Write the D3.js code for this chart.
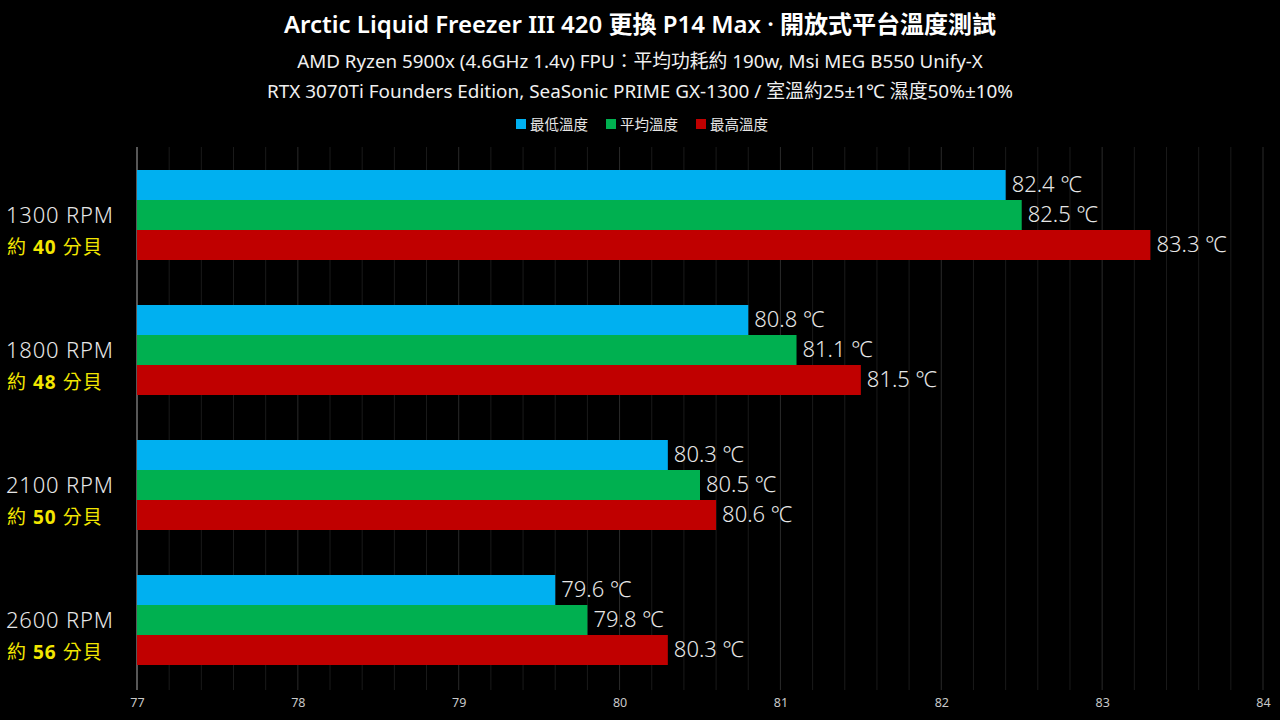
<!DOCTYPE html>
<html><head><meta charset="utf-8">
<script src="https://cdn.jsdelivr.net/npm/d3@7"></script>
<style>html,body{margin:0;padding:0;background:#000;}svg{display:block;}</style>
</head><body>
<script>
const categories = ["1300 RPM", "1800 RPM", "2100 RPM", "2600 RPM"];
const noiseDb = ["40", "48", "50", "56"];
const seriesNames = ["最低溫度", "平均溫度", "最高溫度"];
const minTemp = [82.4, 80.8, 80.3, 79.6];
const avgTemp = [82.5, 81.1, 80.5, 79.8];
const maxTemp = [83.3, 81.5, 80.6, 80.3];
const xTicks = [77, 78, 79, 80, 81, 82, 83, 84];
const colors = ["#00b0f0", "#00b050", "#c00000"];
const titleText = "Arctic Liquid Freezer III 420 更換 P14 Max · 開放式平台溫度測試";
const subtitle1 = "AMD Ryzen 5900x (4.6GHz 1.4v) FPU：平均功耗約 190w, Msi MEG B550 Unify-X";
const subtitle2 = "RTX 3070Ti Founders Edition, SeaSonic PRIME GX-1300 / 室溫約25±1℃ 濕度50%±10%";

const series = [minTemp, avgTemp, maxTemp];
const W = 1280, H = 720;
const font = "'Noto Sans', 'Noto Sans CJK TC', sans-serif";
const svg = d3.select("body").append("svg").attr("width", W).attr("height", H)
  .style("background", "#000").style("font-family", font);

const x = d3.scaleLinear().domain([77, 84]).range([137, 1263]);
const y = d3.scaleBand().domain(categories).range([147.5, 687.5]).paddingInner(1/3).paddingOuter(1/6);
const ySub = d3.scaleBand().domain(d3.range(3)).range([0, y.bandwidth()]);

// grid lines
const minor = d3.range(77, 84.001, 0.2).map(v => +v.toFixed(1));
svg.append("g").selectAll("line").data(minor).join("line")
  .attr("x1", d => x(d)).attr("x2", d => x(d))
  .attr("y1", 147).attr("y2", 690)
  .attr("stroke", d => Number.isInteger(d) ? "#2a2a2a" : "#1a1a1a").attr("stroke-width", 1);

// axis line
svg.append("line").attr("x1", x(77)).attr("x2", x(77)).attr("y1", 147).attr("y2", 690)
  .attr("stroke", "#9a9a9a").attr("stroke-width", 1);

// x tick labels via axis
const xAxis = svg.append("g").attr("transform", "translate(0,698)")
  .call(d3.axisBottom(x).tickValues(xTicks).tickSize(0).tickPadding(0).tickFormat(d3.format("d")));
xAxis.select(".domain").remove();
xAxis.selectAll("text").attr("fill", "#c8c8c8").style("font-size", "12.5px").style("font-family", font);

// bars
categories.forEach((c, i) => {
  const g = svg.append("g").attr("transform", `translate(0,${y(c)})`);
  series.forEach((s, k) => {
    g.append("rect").attr("x", x(77)).attr("y", ySub(k))
      .attr("width", x(s[i]) - x(77)).attr("height", ySub.bandwidth())
      .attr("fill", colors[k]);
    g.append("text").attr("x", x(s[i]) + 6).attr("y", ySub(k) + ySub.bandwidth() / 2 + 1)
      .attr("dominant-baseline", "middle").attr("fill", "#e6e6e6")
      .style("font-size", "22px").style("font-weight", 300)
      .text(s[i].toFixed(1) + " ℃");
  });
  // category labels
  svg.append("text").attr("x", 6).attr("y", y(c) + y.bandwidth() / 2 + 8)
    .attr("fill", "#e6e6e6").style("font-size", "22px").style("font-weight", 300)
    .style("letter-spacing", "0.8px").text(c);
  const t = svg.append("text").attr("x", 7).attr("y", y(c) + y.bandwidth() / 2 + 39)
    .attr("fill", "#f2e600").style("font-size", "19px").style("letter-spacing", "1px")
    .attr("xml:space", "preserve");
  t.append("tspan").text("約 ");
  t.append("tspan").style("font-weight", 700).text(noiseDb[i]);
  t.append("tspan").text(" 分貝");
});

// title
svg.append("text").attr("x", 640).attr("y", 33).attr("text-anchor", "middle")
  .attr("fill", "#ffffff").style("font-size", "24px").style("font-weight", 600).text(titleText);
svg.append("text").attr("x", 640).attr("y", 68).attr("text-anchor", "middle")
  .attr("fill", "#f0f0f0").style("font-size", "18.8px").text(subtitle1);
svg.append("text").attr("x", 640).attr("y", 98).attr("text-anchor", "middle")
  .attr("fill", "#f0f0f0").style("font-size", "18.9px").text(subtitle2);

// legend
const legendX = [516, 606, 696];
const lg = svg.append("g");
seriesNames.forEach((n, k) => {
  lg.append("rect").attr("x", legendX[k]).attr("y", 119).attr("width", 10).attr("height", 10).attr("fill", colors[k]);
  lg.append("text").attr("x", legendX[k] + 14).attr("y", 129.5).attr("fill", "#e6e6e6")
    .style("font-size", "14.5px").text(n);
});
</script>
</body></html>
